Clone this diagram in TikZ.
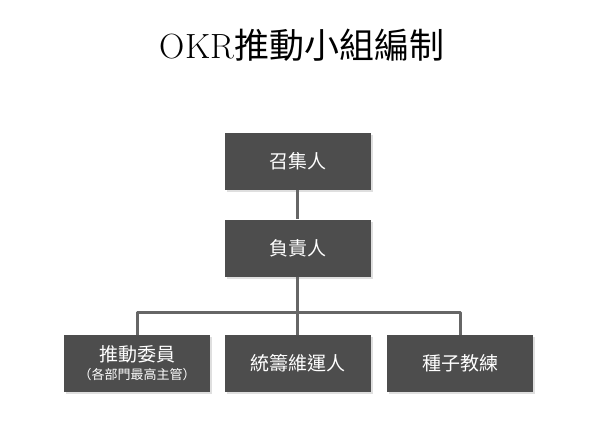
\documentclass[tikz,border=0pt]{standalone}
\usepackage{fontspec}
\newfontfamily\cjk{Noto Sans CJK TC}
\usetikzlibrary{positioning,shadows}
\definecolor{boxgray}{HTML}{4D4D4D}
\definecolor{linegray}{HTML}{666666}
\tikzset{
  role/.style={fill=boxgray, text=white, minimum width=146pt, minimum height=57pt,
    inner sep=0pt, font=\cjk\fontsize{19}{21}\selectfont, align=center,
    drop shadow={shadow xshift=2pt, shadow yshift=-2pt, fill=black!25}},
  link/.style={draw=linegray, line width=3pt}
}
\begin{document}
\begin{tikzpicture}[x=1pt,y=-1pt]
\useasboundingbox (0,0) rectangle (605,426);
\node (title) at (302,45) {\fontsize{35}{38}\selectfont OKR{\cjk 推動小組編制}};
\node[role] (convener) at (297.5,161.5) {召集人};
\node[role] (leader) at (297.5,248) {負責人};
\node[role] (committee) at (137,363.5) {推動委員\\[-3pt]{\fontsize{13}{15}\selectfont （各部門最高主管）}};
\node[role] (coord) at (297.5,363.5) {統籌維運人};
\node[role] (coach) at (460,363.5) {種子教練};
\coordinate (split) at (297.5,312);
\begin{scope}[on background layer/.try]
\draw[link] (convener) -- (leader);
\draw[link] (leader) -- (split);
\draw[link, line join=round] (committee.north) |- (split) -| (coach.north);
\draw[link] (split) -- (coord);
\end{scope}
\end{tikzpicture}
\end{document}
